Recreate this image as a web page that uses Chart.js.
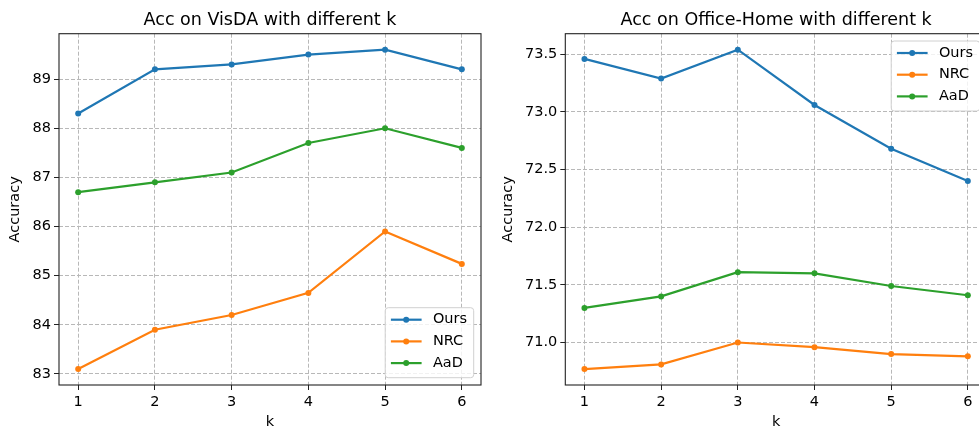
<!DOCTYPE html>
<html>
<head>
<meta charset="utf-8">
<script src="https://cdn.jsdelivr.net/npm/chart.js@4.4.1/dist/chart.umd.min.js"></script>
<style>
  html, body { margin: 0; padding: 0; background: #fff; overflow: hidden; width: 979px; height: 427px; }
  canvas { position: absolute; top: 0; }
</style>
</head>
<body>
<canvas id="visda" width="490" height="440" style="left:0"></canvas>
<canvas id="office" width="510" height="440" style="left:490px"></canvas>
<script>
// values
const kValues = [1, 2, 3, 4, 5, 6];
const seriesNames = ['Ours', 'NRC', 'AaD'];
const seriesColors = ['#1f77b4', '#ff7f0e', '#2ca02c'];

const visdaOurs = [88.3, 89.2, 89.3, 89.5, 89.6, 89.2];
const visdaNRC  = [83.1, 83.9, 84.2, 84.65, 85.9, 85.24];
const visdaAaD  = [86.7, 86.9, 87.1, 87.7, 88.0, 87.6];
const visdaTicks = [83, 84, 85, 86, 87, 88, 89];

const officeOurs = [73.46, 73.29, 73.54, 73.06, 72.68, 72.40];
const officeNRC  = [70.77, 70.81, 71.00, 70.96, 70.90, 70.88];
const officeAaD  = [71.30, 71.40, 71.61, 71.60, 71.49, 71.41];
const officeTicks = [71.0, 71.5, 72.0, 72.5, 73.0, 73.5];

const FONT = '"DejaVu Sans", sans-serif';

// axes frame on all four sides, like matplotlib spines
const frame = {
  id: 'frame',
  afterDatasetsDraw(chart) {
    const a = chart.chartArea, ctx = chart.ctx;
    ctx.save();
    ctx.strokeStyle = '#222';
    ctx.lineWidth = 1.1;
    ctx.strokeRect(a.left, a.top, a.right - a.left, a.bottom - a.top);
    ctx.restore();
  }
};

// matplotlib style legend box inside the axes
const legendBox = {
  id: 'legendBox',
  afterDraw(chart, args, opts) {
    const ctx = chart.ctx, a = chart.chartArea;
    const w = 88.5, h = 70, pad = 7.3;
    const x = a.right - pad - w;
    const y = opts.corner === 'top' ? a.top + pad : a.bottom - pad - h;
    ctx.save();
    ctx.fillStyle = 'rgba(255,255,255,0.8)';
    ctx.strokeStyle = '#d0d0d0';
    ctx.lineWidth = 1;
    ctx.beginPath();
    ctx.roundRect(x, y, w, h, 3);
    ctx.fill();
    ctx.stroke();
    chart.data.datasets.forEach((ds, i) => {
      const cy = y + 12 + i * 21.7;
      ctx.strokeStyle = ds.borderColor;
      ctx.lineWidth = 2.2;
      ctx.beginPath();
      ctx.moveTo(x + 5.7, cy);
      ctx.lineTo(x + 36.4, cy);
      ctx.stroke();
      ctx.fillStyle = ds.borderColor;
      ctx.beginPath();
      ctx.arc(x + 21, cy, 3, 0, Math.PI * 2);
      ctx.fill();
      ctx.fillStyle = '#000';
      ctx.font = '14.5px ' + FONT;
      ctx.textBaseline = 'middle';
      ctx.fillText(ds.label, x + 47.7, cy);
    });
    ctx.restore();
  }
};

function makeChart(id, title, series, ticks, decimals, yWidth, yTitlePad, rightPad, corner) {
  const all = [].concat(...series);
  const lo = Math.min(...all), hi = Math.max(...all);
  const m = (hi - lo) * 0.05;
  const gridOpts = { color: '#b8b8b8', lineWidth: 1, tickLength: 5, tickColor: '#222', tickBorderDash: [], tickWidth: 1 };

  new Chart(document.getElementById(id), {
    type: 'line',
    data: {
      datasets: series.map((vals, i) => ({
        label: seriesNames[i],
        data: kValues.map((k, j) => ({ x: k, y: vals[j] })),
        borderColor: seriesColors[i],
        backgroundColor: seriesColors[i],
        borderWidth: 2.2,
        pointRadius: 3,
        pointBorderWidth: 0,
        pointHoverRadius: 3,
        tension: 0
      }))
    },
    options: {
      responsive: false,
      animation: false,
      layout: { padding: { left: 0, right: rightPad, top: 0, bottom: 0 } },
      plugins: {
        legend: { display: false },
        tooltip: { enabled: false },
        title: {
          display: true,
          fullSize: false,
          text: title,
          color: '#000',
          font: { family: FONT, size: 17.5, weight: 'normal' },
          padding: { top: 10, bottom: 2.7 }
        },
        legendBox: { corner: corner }
      },
      scales: {
        x: {
          type: 'linear',
          min: 0.75,
          max: 6.25,
          afterBuildTicks: s => { s.ticks = kValues.map(v => ({ value: v })); },
          afterFit: s => { s.height = 55; },
          ticks: { color: '#000', font: { family: FONT, size: 14.5 }, padding: 4, callback: v => String(v) },
          grid: gridOpts,
          border: { display: false, dash: [4, 2] },
          title: { display: true, text: 'k', color: '#000', font: { family: FONT, size: 14.5 }, padding: { top: 0, bottom: 9 } }
        },
        y: {
          min: lo - m,
          max: hi + m,
          afterBuildTicks: s => { s.ticks = ticks.map(v => ({ value: v })); },
          afterFit: s => { s.width = yWidth; },
          ticks: { color: '#000', font: { family: FONT, size: 14.5 }, padding: 3, callback: v => v.toFixed(decimals) },
          grid: gridOpts,
          border: { display: false, dash: [4, 2] },
          title: { display: true, text: 'Accuracy', color: '#000', font: { family: FONT, size: 14.5 }, padding: { top: yTitlePad, bottom: 0 } }
        }
      }
    },
    plugins: [frame, legendBox]
  });
}

makeChart('visda', 'Acc on VisDA with different k', [visdaOurs, visdaNRC, visdaAaD], visdaTicks, 0, 59, 6.3, 9, 'bottom');
makeChart('office', 'Acc on Office-Home with different k', [officeOurs, officeNRC, officeAaD], officeTicks, 1, 75.3, 9.6, 13, 'top');
</script>
</body>
</html>
